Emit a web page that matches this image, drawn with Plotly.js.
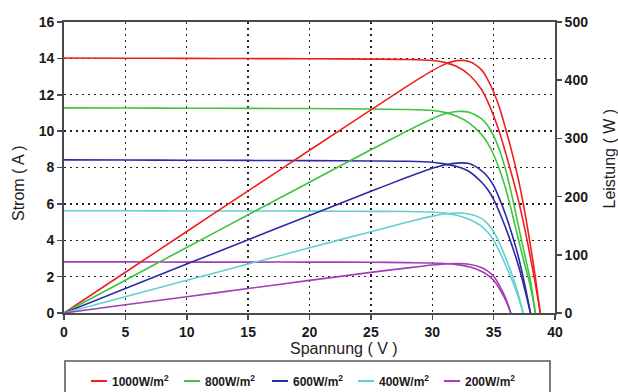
<!DOCTYPE html>
<html><head><meta charset="utf-8">
<script src="https://cdn.plot.ly/plotly-3.0.1.min.js"></script>
<style>html,body{margin:0;padding:0;background:#fff;} #chart{width:618px;height:392px;}</style>
</head><body><div id="chart"></div>
<script>
// Irradiance levels (legend labels)
const levels = ['1000W/m<sup>2</sup>', '800W/m<sup>2</sup>', '600W/m<sup>2</sup>', '400W/m<sup>2</sup>', '200W/m<sup>2</sup>'];
const colors = ['#f01e1e', '#3ec43e', '#2b2ba6', '#62d0d0', '#a23db5'];

// Voltage (V), current (A) and power (W)
const V1000 = [0,5,10,15,20,25,28,30,31,32,33,34,34.5,35,35.5,36,36.5,37,37.5,38,38.4,38.8];
const I1000 = [14.02,14.01,14.0,13.99,13.98,13.96,13.94,13.88,13.78,13.55,13.1,12.3,11.65,10.85,9.9,8.75,7.55,6.25,4.75,3.05,1.6,0];
const P1000 = [0,70.05,140,209.85,279.6,349,390.3,416.4,427.2,433.6,432.3,418.2,401.9,379.75,351.45,315,275.6,231.25,178.1,115.9,61.4,0];

const V800 = [0,5,10,15,20,25,28,30,31,32,33,34,34.5,35,35.5,36,36.5,37,37.5,38,38.4];
const I800 = [11.28,11.27,11.26,11.25,11.24,11.22,11.19,11.13,11.03,10.82,10.45,9.82,9.35,8.7,7.85,6.8,5.5,4.1,2.75,1.45,0];
const P800 = [0,56.35,112.6,168.75,224.8,280.5,313.3,333.9,341.9,346.2,344.9,333.9,322.6,304.5,278.7,244.8,200.75,151.7,103.1,55.1,0];

const V600 = [0,5,10,15,20,25,28,30,31,32,33,34,34.5,35,35.5,36,36.5,37,37.5,38];
const I600 = [8.42,8.41,8.40,8.39,8.38,8.36,8.34,8.29,8.2,8.05,7.78,7.2,6.8,6.25,5.5,4.65,3.7,2.65,1.4,0];
const P600 = [0,42.05,84,125.85,167.6,209,233.5,248.7,254.2,257.6,256.7,244.8,234.6,218.75,195.25,167.4,135.05,98.05,52.5,0];

const V400 = [0,5,10,15,20,25,28,30,31,32,33,34,34.5,35,35.5,36,36.5,37,37.4];
const I400 = [5.62,5.62,5.61,5.61,5.6,5.59,5.58,5.55,5.49,5.37,5.15,4.78,4.45,4.0,3.35,2.6,1.8,0.9,0];
const P400 = [0,28.1,56.1,84.15,112,139.75,156.2,166.5,170.2,171.8,170,162.5,153.5,140,118.9,93.6,65.7,33.3,0];

const V200 = [0,5,10,15,20,25,28,30,31,32,33,34,34.5,35,35.5,36,36.4];
const I200 = [2.81,2.81,2.8,2.8,2.8,2.79,2.77,2.75,2.72,2.66,2.54,2.3,2.1,1.8,1.3,0.68,0];
const P200 = [0,14.05,28,42,56,69.75,77.56,82.5,84.32,85.12,83.82,78.2,72.45,63,46.15,24.48,0];

const xTicks = [0,5,10,15,20,25,30,35,40];
const yTicks = [0,2,4,6,8,10,12,14,16];
const y2Ticks = [0,100,200,300,400,500];

const series = [
  {v: V1000, i: I1000, p: P1000},
  {v: V800,  i: I800,  p: P800},
  {v: V600,  i: I600,  p: P600},
  {v: V400,  i: I400,  p: P400},
  {v: V200,  i: I200,  p: P200}
];

const traces = [];
series.forEach((s, k) => {
  traces.push({x: s.v, y: s.i, type: 'scatter', mode: 'lines', name: levels[k], yaxis: 'y',
    line: {color: colors[k], width: 1.6, shape: 'spline', smoothing: 0.8}, showlegend: false, hoverinfo: 'skip'});
  traces.push({x: s.v, y: s.p, type: 'scatter', mode: 'lines', name: levels[k], yaxis: 'y2',
    line: {color: colors[k], width: 1.6, shape: 'spline', smoothing: 0.8}, showlegend: false, hoverinfo: 'skip'});
});

// plot area in pixels
const L = 64, R = 555, T = 22, B = 313;
const px = x => (x - L) / (R - L);
const py = y => (B - y) / (B - T);

const fam = 'Liberation Sans, Arial, sans-serif';
const tickFont = {family: fam, size: 14, color: '#1a1a1a', weight: 700};
const axisCommon = {showline: true, linecolor: '#4a4a4a', linewidth: 1.8, ticks: 'outside', ticklen: 5,
  tickwidth: 1.5, tickcolor: '#4a4a4a', zeroline: false, tickfont: tickFont, fixedrange: true};

// manual legend geometry
const legSym = [91, 184, 272, 358, 444];
const legY = 381;

const shapes = [{type: 'rect', xref: 'paper', yref: 'paper', x0: px(65), x1: px(550), y0: py(361), y1: py(400),
  line: {color: '#5a5a5a', width: 1.6}, fillcolor: 'rgba(0,0,0,0)'}];
const annotations = [
  {text: 'Strom ( A )', xref: 'paper', yref: 'paper', x: px(18.5), y: py(183.5), textangle: -90, showarrow: false,
    font: {family: fam, size: 16, color: '#222'}, xanchor: 'center', yanchor: 'middle'},
  {text: 'Leistung ( W )', xref: 'paper', yref: 'paper', x: px(609), y: py(158.5), textangle: -90, showarrow: false,
    font: {family: fam, size: 16, color: '#222'}, xanchor: 'center', yanchor: 'middle'},
  {text: 'Spannung ( V )', xref: 'paper', yref: 'paper', x: px(344), y: py(348), showarrow: false,
    font: {family: fam, size: 16, color: '#222'}, xanchor: 'center', yanchor: 'middle'}
];
levels.forEach((lab, k) => {
  shapes.push({type: 'line', xref: 'paper', yref: 'paper', x0: px(legSym[k]), x1: px(legSym[k] + 16),
    y0: py(legY), y1: py(legY), line: {color: colors[k], width: 2}});
  annotations.push({text: lab, xref: 'paper', yref: 'paper', x: px(legSym[k] + 19), y: py(legY), showarrow: false,
    xanchor: 'left', yanchor: 'middle', font: {family: fam, size: 12, color: '#1a1a1a', weight: 700}});
});

const layout = {
  width: 618, height: 392,
  margin: {l: L, r: 618 - R, t: T, b: 392 - B, pad: 0},
  paper_bgcolor: '#fff', plot_bgcolor: '#fff',
  showlegend: false,
  xaxis: Object.assign({}, axisCommon, {range: [0, 40], tickvals: xTicks, ticktext: xTicks.map(String), mirror: true,
    showgrid: true, gridcolor: '#222', gridwidth: 1.4, griddash: '2px,4px'}),
  yaxis: Object.assign({}, axisCommon, {range: [0, 16], tickvals: yTicks, ticktext: yTicks.map(String),
    showgrid: true, gridcolor: '#222', gridwidth: 1.4, griddash: '2px,4px'}),
  yaxis2: Object.assign({}, axisCommon, {range: [0, 500], tickvals: y2Ticks, ticktext: y2Ticks.map(String),
    overlaying: 'y', side: 'right', showgrid: false}),
  shapes: shapes,
  annotations: annotations
};

Plotly.newPlot('chart', traces, layout, {staticPlot: true, displayModeBar: false});
</script>
</body></html>
